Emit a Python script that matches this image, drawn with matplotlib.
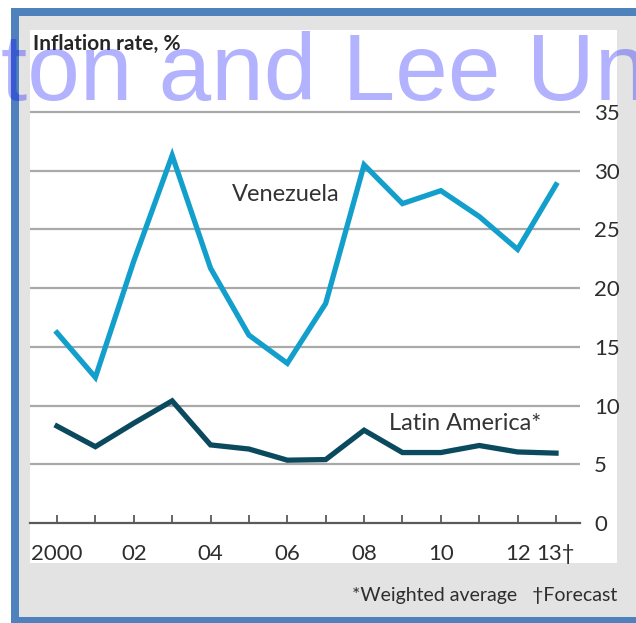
import matplotlib.pyplot as plt
from matplotlib.patches import Rectangle

# data
years = list(range(2000, 2014))
venezuela = [16.2, 12.4, 22.3, 31.3, 21.7, 16.0, 13.6, 18.7, 30.5, 27.2, 28.3, 26.1, 23.3, 28.8]
latin_america = [8.25, 6.5, 8.5, 10.4, 6.65, 6.3, 5.35, 5.4, 7.9, 6.0, 6.0, 6.6, 6.05, 5.95]
x_labels = ['2000', '', '02', '', '04', '', '06', '', '08', '', '10', '', '12', '13\u2020']
y_ticks = [0, 5, 10, 15, 20, 25, 30, 35]

W, H = 636, 623
plt.rcParams['font.family'] = ['Lato', 'DejaVu Sans']
fig = plt.figure(figsize=(W / 100, H / 100), dpi=100)
fig.patch.set_facecolor('white')


def px_rect(x0, y0, x1, y1, color):
    # rectangle in pixel coords (origin top-left)
    fig.patches.append(Rectangle((x0 / W, 1 - y1 / H), (x1 - x0) / W, (y1 - y0) / H,
                                 transform=fig.transFigure, facecolor=color,
                                 edgecolor='none', zorder=-5))


px_rect(11, 8, 640, 623, '#4f81bd')   # blue frame
px_rect(19, 16, 640, 617, '#e3e3e3')  # grey panel
px_rect(30, 30, 617, 563, 'white')    # white chart area

ax = fig.add_axes([30 / W, 1 - 523 / H, 550 / W, 423 / H])
ax.set_zorder(2)
ax.set_facecolor('none')
ax.set_xlim(2000 - 27 / 38.4, 2013 + 24 / 38.4)
ax.set_ylim(0, 35 + 12 / 11.743)

for v in y_ticks[1:]:
    ax.axhline(v, color='#a9a9a9', lw=1.6, zorder=1)

ax.plot(years, venezuela, color='#139fcc', lw=3.8, solid_joinstyle='miter', zorder=3)
ax.plot(years, latin_america, color='#0b4a5e', lw=3.8, solid_joinstyle='miter', zorder=3)

for s in ['left', 'top', 'right']:
    ax.spines[s].set_visible(False)
ax.spines['bottom'].set_color('#5a5a5a')
ax.spines['bottom'].set_linewidth(1.6)

ax.set_xticks(years)
ax.set_xticklabels(x_labels)
ax.tick_params(axis='x', direction='in', length=6, width=1.3, color='#5a5a5a',
               pad=15, labelsize=16, labelcolor='#2e2e2e')
ax.yaxis.tick_right()
ax.set_yticks(y_ticks)
ax.tick_params(axis='y', length=0, pad=10, labelsize=16, labelcolor='#2e2e2e')

ax.text(2004.55, 28.0, 'Venezuela', fontsize=17, color='#333333', va='center')
ax.text(2008.65, 8.45, 'Latin America*', fontsize=17, color='#333333', va='center')

fig.text(33 / W, 1 - 44 / H, 'Inflation rate, %', fontsize=15, fontweight='bold',
         color='#262626', va='center', ha='left')
fig.text(617 / W, 1 - 595 / H, '*Weighted average   \u2020Forecast', fontsize=14,
         color='#2e2e2e', va='center', ha='right')

# watermark over everything
fig.text(1 / W, 1 - 100 / H, 'ton and Lee Un', fontsize=68, family='Liberation Sans',
         color='blue', alpha=0.3, va='baseline', ha='left', zorder=10)

fig.savefig('out.png', dpi=100)
